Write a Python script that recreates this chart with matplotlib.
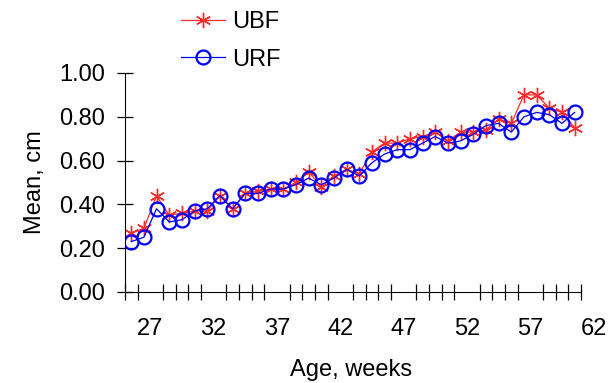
import numpy as np
import matplotlib
matplotlib.use("Agg")
import matplotlib.pyplot as plt

plt.rcParams['font.family'] = ['Liberation Sans', 'DejaVu Sans']

# data: age in weeks (plotted centred between week ticks) and means
weeks = [25, 26, 27, 28, 29, 30, 31, 32, 33, 34, 35, 36, 37, 38, 39, 40, 41, 42,
         43, 44, 45, 46, 47, 48, 49, 50, 51, 52, 53, 54, 55, 56, 57, 58, 59, 60]
ubf = [0.27, 0.29, 0.44, 0.35, 0.36, 0.37, 0.37, 0.44, 0.38, 0.45, 0.46, 0.47,
       0.47, 0.50, 0.55, 0.48, 0.53, 0.56, 0.54, 0.64, 0.68, 0.68, 0.70, 0.71,
       0.73, 0.69, 0.73, 0.73, 0.74, 0.79, 0.77, 0.90, 0.90, 0.84, 0.82, 0.75]
urf = [0.23, 0.25, 0.38, 0.32, 0.33, 0.37, 0.38, 0.44, 0.38, 0.45, 0.45, 0.47,
       0.47, 0.49, 0.52, 0.49, 0.52, 0.56, 0.53, 0.59, 0.63, 0.65, 0.65, 0.68,
       0.71, 0.68, 0.69, 0.72, 0.76, 0.77, 0.73, 0.80, 0.82, 0.81, 0.77, 0.82]
label_weeks = [27, 32, 37, 42, 47, 52, 57, 62]
y_ticks = [0.0, 0.2, 0.4, 0.6, 0.8, 1.0]

FS = 17

fig = plt.figure(figsize=(6.12, 3.83), dpi=100)
ax = fig.add_axes([0.204, 0.2376, 0.766, 0.5718])

x = np.array(weeks) + 0.5
ax.plot(x, ubf, color='#ff2a2a', lw=0.9, marker=(6, 2, 0), markersize=11,
        markeredgewidth=1.0, label='UBF')
ax.plot(x, urf, color='#0000ff', lw=0.9, marker='o', markersize=10,
        markerfacecolor='none', markeredgewidth=1.6, label='URF')

ax.set_xlim(25, 62)
ax.set_ylim(0, 1.0)

for s in ['top', 'right']:
    ax.spines[s].set_visible(False)
ax.spines['bottom'].set_bounds(25, 61)
ax.spines['left'].set_bounds(0, 1.0)

ax.set_xticks(label_weeks)
ax.set_xticklabels([str(w) for w in label_weeks])
ax.set_xticks(range(25, 62), minor=True)
ax.tick_params(axis='x', which='major', length=0, pad=19, labelsize=FS)
ax.tick_params(axis='x', which='minor', direction='inout', length=11, width=0.9)

ax.set_yticks(y_ticks)
ax.set_yticklabels([f'{v:.2f}' for v in y_ticks])
ax.tick_params(axis='y', direction='inout', length=11, width=0.9, labelsize=FS, pad=8.5)

ax.set_xlabel('Age, weeks', fontsize=FS)
ax.xaxis.set_label_coords(0.482, -0.305)
ax.set_ylabel('Mean, cm', fontsize=FS, labelpad=10)

ax.legend(loc='upper left', bbox_to_anchor=(0.0736, 1.379), frameon=False,
          fontsize=FS, handlelength=1.9, labelspacing=0.65, handletextpad=0.3)

fig.savefig('out.png', dpi=100)
